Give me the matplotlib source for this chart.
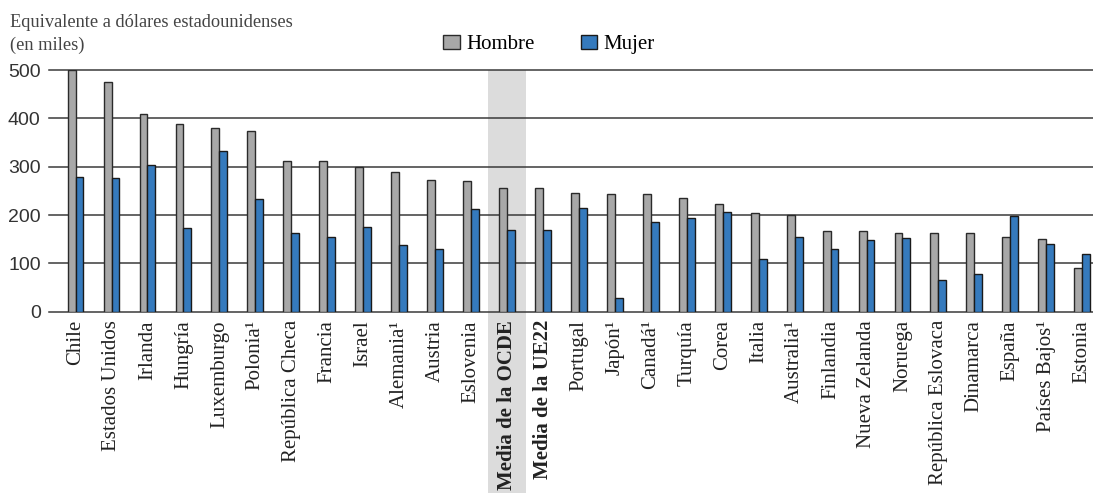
import numpy as np
import matplotlib.pyplot as plt
from matplotlib.patches import Rectangle

# Datos (miles de USD)
paises = ['Chile', 'Estados Unidos', 'Irlanda', 'Hungría', 'Luxemburgo', 'Polonia¹',
          'República Checa', 'Francia', 'Israel', 'Alemania¹', 'Austria', 'Eslovenia',
          'Media de la OCDE', 'Media de la UE22', 'Portugal', 'Japón¹', 'Canadá¹',
          'Turquía', 'Corea', 'Italia', 'Australia¹', 'Finlandia', 'Nueva Zelanda',
          'Noruega', 'República Eslovaca', 'Dinamarca', 'España', 'Países Bajos¹', 'Estonia']
hombre = [500, 476, 410, 388, 381, 373, 312, 311, 300, 288, 273, 271,
          256, 255, 246, 244, 243, 236, 223, 204, 200, 168, 166,
          163, 163, 162, 155, 150, 91]
mujer = [278, 277, 303, 173, 333, 234, 162, 155, 175, 139, 129, 212,
         170, 170, 215, 29, 185, 194, 206, 110, 154, 129, 148,
         152, 66, 79, 199, 140, 119]
resaltado = 'Media de la OCDE'
negrita = ['Media de la OCDE', 'Media de la UE22']

serif = ['Liberation Serif', 'DejaVu Serif']

fig = plt.figure(figsize=(10.93, 4.93), dpi=100)
ax = fig.add_axes([0.0448, 0.3677, 0.9552, 0.4903])

x = np.arange(len(paises))
w = 0.22
ax.bar(x - w / 2, hombre, w, color='#a8a8a8', edgecolor='#2a2a2a', linewidth=1, zorder=3, label='Hombre')
ax.bar(x + w / 2, mujer, w, color='#357abd', edgecolor='#1a1a1a', linewidth=1, zorder=3, label='Mujer')

ax.set_xlim(-0.74, len(paises) - 0.7)
ax.set_ylim(0, 500)

# franja gris de la media OCDE (baja hasta el borde de la figura)
i = paises.index(resaltado)
band = Rectangle((i - 0.52, -1.0), 1.04, 2.0, transform=ax.get_xaxis_transform(),
                 facecolor='#dcdcdc', edgecolor='none', zorder=0, clip_on=False)
ax.add_patch(band)

for yv in [0, 100, 200, 300, 400, 500]:
    ax.axhline(yv, color='#3a3a3a', linewidth=1.1, zorder=1, clip_on=False)

for s in ax.spines.values():
    s.set_visible(False)
ax.set_yticks([0, 100, 200, 300, 400, 500])
ax.tick_params(axis='y', length=0, pad=6, labelsize=14, labelcolor='#333333')
for t in ax.get_yticklabels():
    t.set_family(['Liberation Sans', 'DejaVu Sans'])

ax.set_xticks(x)
ax.set_xticklabels(paises, rotation=90, family=serif, fontsize=15, color='#222222')
ax.tick_params(axis='x', length=0, pad=6)
for t in ax.get_xticklabels():
    if t.get_text() in negrita:
        t.set_fontweight('bold')

fig.text(0.009, 0.955, 'Equivalente a dólares estadounidenses', family=serif,
         fontsize=13.2, color='#444444', va='center')
fig.text(0.009, 0.908, '(en miles)', family=serif, fontsize=13.2, color='#444444', va='center')

ax.legend(loc='center', bbox_to_anchor=(0.479, 1.105), ncol=2, frameon=False,
          prop={'family': serif, 'size': 15}, handlelength=0.8, handleheight=0.7,
          handletextpad=0.3, columnspacing=2.2, borderaxespad=0)

plt.savefig('out.png', dpi=100)
